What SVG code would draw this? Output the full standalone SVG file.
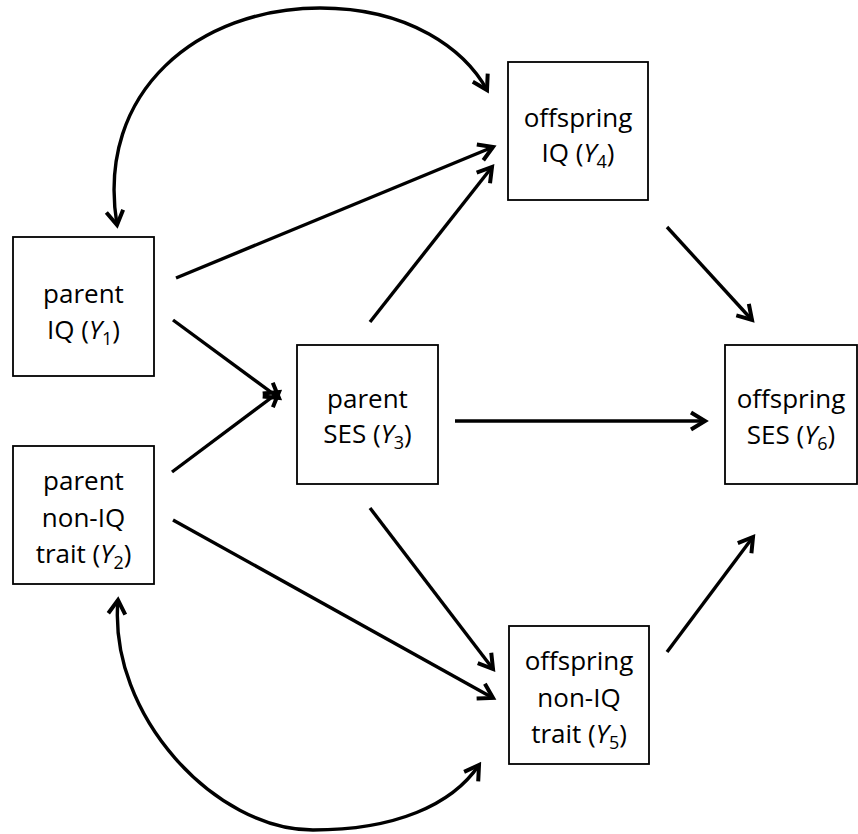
<svg xmlns="http://www.w3.org/2000/svg" width="858" height="834" viewBox="0 0 858 834">
  <style>
    .box { fill: #fff; stroke: #000; stroke-width: 1.8; }
    .lbl { font-family: "Open Sans", "Liberation Sans", sans-serif; font-size: 26px; fill: #000; text-anchor: middle; }
    .sub { font-size: 18px; }
    .edge { fill: none; stroke: #000; stroke-width: 3.4; marker-end: url(#head); }
    .cov { fill: none; stroke: #000; stroke-width: 3.4; marker-start: url(#head); marker-end: url(#head); }
  </style>
  <defs>
    <marker id="head" viewBox="-18 -11 22 22" refX="0" refY="0" markerWidth="22" markerHeight="22" markerUnits="userSpaceOnUse" orient="auto-start-reverse">
      <path d="M -14 -8.5 L 0 0 L -14 8.5" fill="none" stroke="#000" stroke-width="4" stroke-linejoin="miter"/>
    </marker>
  </defs>

  <rect width="858" height="834" fill="#fff"/>

  <g id="connectors">
    <!-- covariance arcs -->
    <path class="cov" d="M 117 225 C 95 90, 200 8, 320 8 C 410 8, 465 50, 487 90"/>
    <path class="cov" d="M 118 600 C 108 715, 215 830, 313 830 C 395 830, 452 805, 479 765"/>
    <!-- directed paths -->
    <path class="edge" d="M 176 278 L 493 147"/>
    <path class="edge" d="M 173 320 L 279 398"/>
    <path class="edge" d="M 172 472 L 279 392"/>
    <path class="edge" d="M 173 520 L 493 698"/>
    <path class="edge" d="M 370 322 L 492 167"/>
    <path class="edge" d="M 455 421 L 705 421"/>
    <path class="edge" d="M 370 508 L 493 669"/>
    <path class="edge" d="M 667 227 L 752 320"/>
    <path class="edge" d="M 667 652 L 753 537"/>
  </g>

  <g id="y1">
    <rect class="box" x="13" y="237" width="141" height="139"/>
    <text class="lbl" x="83.5" y="303">parent</text>
    <text class="lbl" x="83.5" y="339">IQ (<tspan font-style="italic">Y</tspan><tspan class="sub" dy="6">1</tspan><tspan dy="-6">)</tspan></text>
  </g>

  <g id="y2">
    <rect class="box" x="13" y="446" width="141" height="138"/>
    <text class="lbl" x="83.5" y="490">parent</text>
    <text class="lbl" x="83.5" y="527">non-IQ</text>
    <text class="lbl" x="83.5" y="563">trait (<tspan font-style="italic">Y</tspan><tspan class="sub" dy="6">2</tspan><tspan dy="-6">)</tspan></text>
  </g>

  <g id="y3">
    <rect class="box" x="297" y="345" width="141" height="139"/>
    <text class="lbl" x="367.5" y="408">parent</text>
    <text class="lbl" x="367.5" y="443">SES (<tspan font-style="italic">Y</tspan><tspan class="sub" dy="6">3</tspan><tspan dy="-6">)</tspan></text>
  </g>

  <g id="y4">
    <rect class="box" x="508" y="62" width="140" height="138"/>
    <text class="lbl" x="578" y="127">offspring</text>
    <text class="lbl" x="578" y="162">IQ (<tspan font-style="italic">Y</tspan><tspan class="sub" dy="6">4</tspan><tspan dy="-6">)</tspan></text>
  </g>

  <g id="y5">
    <rect class="box" x="509" y="626" width="140" height="138"/>
    <text class="lbl" x="579" y="670">offspring</text>
    <text class="lbl" x="579" y="707">non-IQ</text>
    <text class="lbl" x="579" y="743">trait (<tspan font-style="italic">Y</tspan><tspan class="sub" dy="6">5</tspan><tspan dy="-6">)</tspan></text>
  </g>

  <g id="y6">
    <rect class="box" x="725" y="345" width="132" height="139"/>
    <text class="lbl" x="791" y="408">offspring</text>
    <text class="lbl" x="791" y="444">SES (<tspan font-style="italic">Y</tspan><tspan class="sub" dy="6">6</tspan><tspan dy="-6">)</tspan></text>
  </g>
</svg>
